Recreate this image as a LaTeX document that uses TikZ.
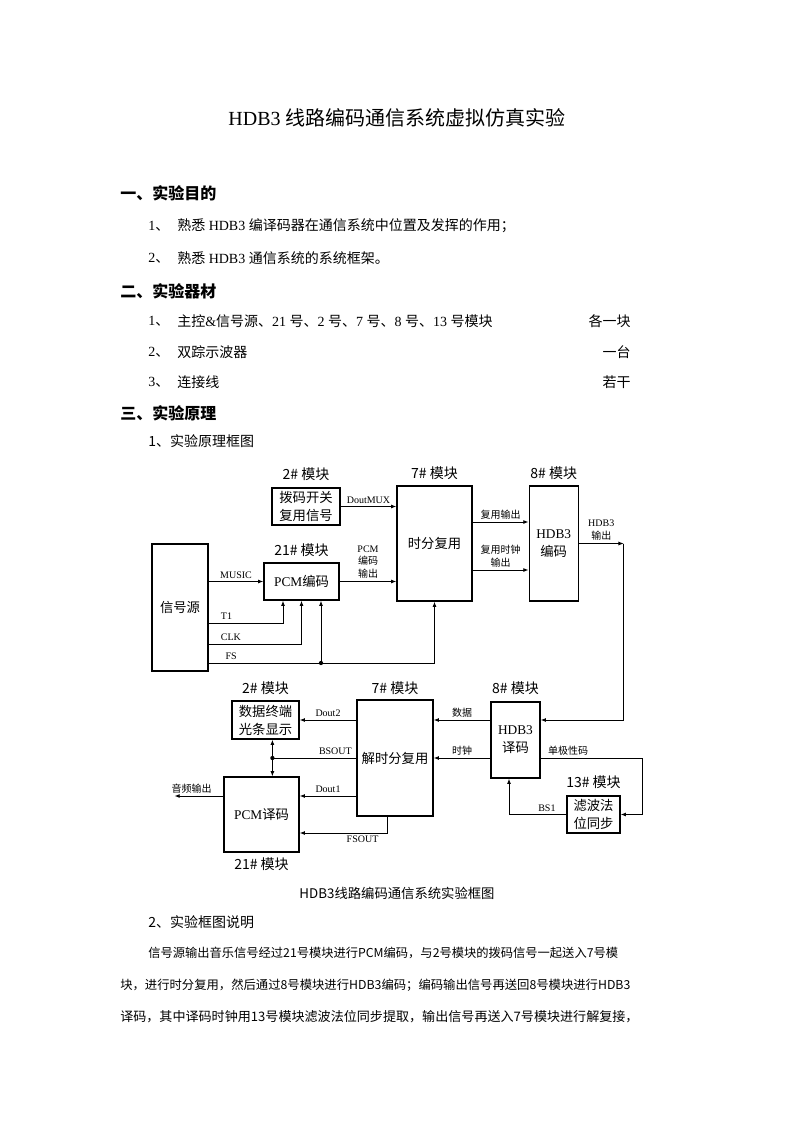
\documentclass[tikz,border=0pt]{standalone}
\usepackage{fontspec}
\setmainfont{Liberation Serif}
\newfontfamily\cjk{Noto Sans CJK SC}
\usetikzlibrary{positioning,arrows.meta,calc}

\newcommand{\zh}[1]{{\cjk #1}}

\begin{document}
\begin{tikzpicture}[
    x=0.75pt, y=-0.75pt,
    every node/.style={inner sep=0pt},
    page/.style={font=\fontsize{10.5}{12}\selectfont, anchor=west},
    para/.style={font=\cjk\fontsize{#1}{12}\selectfont, anchor=west},
    head/.style={font=\cjk\bfseries\fontsize{12}{14}\selectfont, anchor=west},
    blk/.style={
        draw,
        line width=0.9pt,
        align=center,
        inner sep=1pt,
        font=\fontsize{10}{13.5}\selectfont
    },
    mod/.style={font=\cjk\fontsize{10.5}{12}\selectfont, inner sep=1pt},
    lbl/.style={font=\fontsize{7.5}{9.5}\selectfont, align=center, inner sep=2pt},
    wire/.style={line width=0.7pt},
    sig/.style={wire, -{Latex[length=4pt,width=3pt]}}
]
\fill[white] (0,0) rectangle (793,1122);
\useasboundingbox (0,0) rectangle (793,1122);

% page text
\node[font=\fontsize{15}{18}\selectfont] (title) at (397,118) {HDB3 \zh{线路编码通信系统虚拟仿真实验}};

\node[head] (h1) at (120,193) {一、实验目的};
\node[page] (n11) at (148,226) {1\zh{、}};
\node[page] (t11) at (177,226) {\zh{熟悉} HDB3 \zh{编译码器在通信系统中位置及发挥的作用；}};
\node[page] (n12) at (148,258) {2\zh{、}};
\node[page] (t12) at (177,258) {\zh{熟悉} HDB3 \zh{通信系统的系统框架。}};

\node[head] (h2) at (120,291) {二、实验器材};
\node[page] (n21) at (148,321) {1\zh{、}};
\node[page] (t21) at (177,321) {\zh{主控}\&\zh{信号源、}21 \zh{号、}2 \zh{号、}7 \zh{号、}8 \zh{号、}13 \zh{号模块}};
\node[page, anchor=east] (q21) at (631,321) {\zh{各一块}};
\node[page] (n22) at (148,352) {2\zh{、}};
\node[page] (t22) at (177,352) {\zh{双踪示波器}};
\node[page, anchor=east] (q22) at (631,352) {\zh{一台}};
\node[page] (n23) at (148,382) {3\zh{、}};
\node[page] (t23) at (177,382) {\zh{连接线}};
\node[page, anchor=east] (q23) at (631,382) {\zh{若干}};

\node[head] (h3) at (120,413) {三、实验原理};
\node[page] (t31) at (148,441) {\zh{1、实验原理框图}};

% coding side
\node[blk, minimum width=42pt, minimum height=95.25pt] (src) at (180,607.5) {\zh{信号源}};
\node[blk, minimum width=51pt, minimum height=27.75pt] (dip) at (306,506.5) {\zh{拨码开关}\\\zh{复用信号}};
\node[blk, minimum width=56.25pt, minimum height=27.75pt] (pcmenc) at (301.5,581.5) {PCM\zh{编码}};
\node[blk, minimum width=56.25pt, minimum height=86.25pt] (tdm) at (434.5,543.5) {\zh{时分复用}};
\node[blk, minimum width=36.75pt, minimum height=86.25pt, right=42pt of tdm] (hdbenc) {HDB3\\\zh{编码}};

\node[mod, above=4pt of dip] (m2a) {2\# 模块};
\node[mod, above=3pt of pcmenc] (m21a) {21\# 模块};
\node[mod, above=3pt of tdm] (m7a) {7\# 模块};
\node[mod, above=3pt of hdbenc] (m8a) {8\# 模块};

\draw[sig] (dip.east) -- (dip.east -| tdm.west) node[lbl, midway, above] {DoutMUX};
\draw[sig] (src.east |- pcmenc.west) -- (pcmenc.west) node[lbl, midway, above] {MUSIC};
\draw[sig] (pcmenc.east) -- (pcmenc.east -| tdm.west) node[lbl, midway, above] {PCM\\\zh{编码}\\\zh{输出}};
\draw[sig] (src.east |- 0,623) -| ($(pcmenc.south)+(-18.5,0)$) node[lbl, pos=0.12, above] {T1};
\draw[sig] (src.east |- 0,644) -| (pcmenc.south) node[lbl, pos=0.12, above] {CLK};
\draw[sig] (src.east |- 0,663) -| (tdm.south) node[lbl, pos=0.05, above] {FS};
\coordinate (fsdot) at ($(pcmenc.south |- 0,663)+(19.5,0)$);
\fill (fsdot) circle (1.6pt);
\draw[sig] (fsdot) -- (fsdot |- pcmenc.south);

\draw[sig] (tdm.east |- 0,522) -- (hdbenc.west |- 0,522) node[lbl, midway, above] {\zh{复用输出}};
\draw[sig] (tdm.east |- 0,570) -- (hdbenc.west |- 0,570) node[lbl, midway, above] {\zh{复用时钟}\\\zh{输出}};
\draw[sig] (hdbenc.east) -- ++(45,0) coordinate (hdbout) node[lbl, midway, above] {HDB3\\\zh{输出}};

% decoding side
\node[blk, minimum width=36.75pt, minimum height=57pt] (hdbdec) at (515.5,740) {HDB3\\\zh{译码}};
\node[blk, minimum width=39.75pt, minimum height=27.75pt] (filt) at (593.5,814.5) {\zh{滤波法}\\\zh{位同步}};
\node[blk, minimum width=57pt, minimum height=87pt] (demux) at (395,758) {\zh{解时分复用}};
\node[blk, minimum width=50.25pt, minimum height=28.5pt] (disp) at (265.5,720) {\zh{数据终端}\\\zh{光条显示}};
\node[blk, minimum width=56.25pt, minimum height=56.25pt] (pcmdec) at (261.5,814.5) {PCM\zh{译码}};

\node[mod, above=4pt of hdbdec] (m8b) {8\# 模块};
\node[mod, above=3.5pt of filt] (m13) {13\# 模块};
\node[mod, above=3pt of disp] (m2b) {2\# 模块};
\node[mod, above=2pt of demux] (m7b) {7\# 模块};
\node[mod, below=3pt of pcmdec] (m21b) {21\# 模块};

\draw[sig] (hdbout) |- (hdbdec.east |- 0,720);
\draw[sig] (hdbdec.west |- 0,720) -- (demux.east |- 0,720) node[lbl, midway, above] {\zh{数据}};
\draw[sig] (hdbdec.west |- demux.east) -- (demux.east) node[lbl, midway, above] {\zh{时钟}};
\draw[sig] (hdbdec.east |- demux.east) -- ++(102,0) node[lbl, pos=0.27, above] {\zh{单极性码}} |- (filt.east);
\draw[sig] (filt.west) -| ($(hdbdec.south)+(-6.5,0)$) node[lbl, pos=0.17, above] {BS1};

\draw[sig] (demux.west |- disp.east) -- (disp.east) node[lbl, midway, above] {Dout2};
\draw[wire] (demux.west) -- ++(-84,0) coordinate (bsdot) node[lbl, pos=0.25, above] {BSOUT};
\fill (bsdot) circle (1.6pt);
\draw[wire, {Latex[length=4pt,width=3pt]}-{Latex[length=4pt,width=3pt]}] (bsdot |- disp.south) -- (bsdot |- pcmdec.north);
\draw[sig] (demux.west |- 0,796) -- (pcmdec.east |- 0,796) node[lbl, midway, above] {Dout1};
\draw[sig] ($(demux.south)+(-8,0)$) |- (pcmdec.east |- 0,833) node[lbl, pos=0.64, below] {FSOUT};
\draw[sig] (pcmdec.west |- 0,796) -- ++(-49,0) node[lbl, pos=0.65, above] {\zh{音频输出}};

% caption and notes
\node[font=\cjk\fontsize{10}{12}\selectfont] (cap) at (397,893) {HDB3线路编码通信系统实验框图};
\node[page] (t32) at (148,922) {\zh{2、实验框图说明}};
\node[para=9.2] (p1) at (148,953) {信号源输出音乐信号经过21号模块进行PCM编码，与2号模块的拨码信号一起送入7号模};
\node[para=9.25] (p2) at (120,985) {块，进行时分复用，然后通过8号模块进行HDB3编码；编码输出信号再送回8号模块进行HDB3};
\node[para=9.8] (p3) at (120,1017) {译码，其中译码时钟用13号模块滤波法位同步提取，输出信号再送入7号模块进行解复接，};

\end{tikzpicture}
\end{document}
